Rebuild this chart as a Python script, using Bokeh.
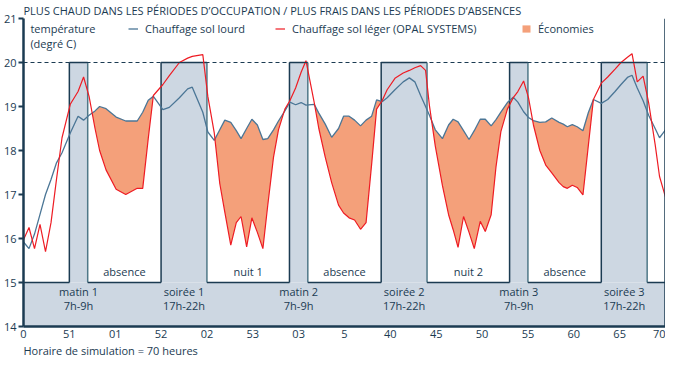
import numpy as np
from bokeh.plotting import figure
from bokeh.models import Range1d, FixedTicker, Span, Legend, LegendItem, Title
from bokeh.core.properties import value
from bokeh.embed import file_html
from bokeh.resources import INLINE

# ---------------- data ----------------
hours = [0.0, 0.6, 1.2, 1.8, 2.4, 3.0, 3.6, 4.2, 5.1, 5.95, 6.55, 7.15, 7.8, 8.3, 9.0,
         10.1, 11.15, 12.4, 13.0, 13.6, 14.16, 15.2, 15.9, 17.0, 17.9, 18.4, 19.55, 20.1,
         20.8, 21.4, 21.95, 22.6, 23.2, 23.72, 24.33, 24.9, 25.5, 26.1, 26.63, 27.26, 27.8,
         28.5, 29.04, 29.67, 30.27, 30.8, 31.7, 32.2, 32.9, 33.6, 34.35, 34.9, 35.5, 36.1,
         36.75, 37.35, 37.96, 38.5, 39.1, 39.65, 40.5, 41.4, 42.07, 42.67, 43.3, 43.84,
         44.26, 44.9, 45.68, 46.35, 46.85, 47.38, 47.98, 48.58, 49.15, 49.8, 50.35, 50.99,
         51.52, 52.05, 52.76, 53.4, 53.9, 54.53, 55.06, 55.6, 56.3, 56.94, 57.6, 58.4,
         58.85, 59.3, 59.84, 60.37, 61.0, 61.6, 62.14, 63.0, 63.7, 64.5, 65.15, 65.85,
         66.35, 66.92, 67.56, 68.16, 68.87, 69.35, 70.0]

# Chauffage sol léger (OPAL SYSTEMS)
leger = [15.97, 16.25, 15.77, 16.32, 15.70, 16.36, 17.35, 18.29, 19.05, 19.34, 19.67, 19.23,
         18.5, 18.0, 17.56, 17.12, 17.0, 17.14, 17.14, 18.27, 19.25, 19.5, 19.7, 20.0, 20.1,
         20.14, 20.18, 19.23, 18.4, 17.25, 16.6, 15.85, 16.36, 16.5, 15.81, 16.47, 16.14,
         15.77, 16.75, 17.85, 18.47, 18.94, 19.13, 19.42, 19.78, 20.04, 19.09, 18.5, 17.85,
         17.27, 16.76, 16.58, 16.47, 16.42, 16.21, 16.36, 17.69, 18.94, 19.13, 19.38, 19.64,
         19.76, 19.82, 19.88, 19.93, 19.82, 19.02, 18.1, 17.2, 16.54, 16.2, 15.8, 16.5,
         16.14, 15.77, 16.39, 16.16, 16.54, 17.63, 18.43, 18.94, 19.2, 19.34, 19.58, 19.2,
         18.58, 18.0, 17.67, 17.49, 17.27, 17.18, 17.14, 17.21, 17.16, 16.99, 18.14, 19.16,
         19.53, 19.67, 19.85, 20.0, 20.12, 20.2, 19.56, 19.69, 19.09, 18.14, 17.41, 16.94]

# Chauffage sol lourd
lourd = [15.92, 15.77, 16.1, 16.55, 17.0, 17.34, 17.72, 17.95, 18.4, 18.78, 18.69, 18.8,
         18.9, 19.0, 18.95, 18.76, 18.67, 18.67, 18.87, 19.14, 19.23, 18.93, 18.98, 19.2,
         19.4, 19.44, 18.87, 18.42, 18.23, 18.47, 18.69, 18.64, 18.45, 18.27, 18.5, 18.71,
         18.58, 18.25, 18.27, 18.47, 18.67, 18.9, 19.1, 19.04, 19.09, 19.03, 19.05, 18.85,
         18.6, 18.3, 18.5, 18.78, 18.78, 18.69, 18.56, 18.69, 18.78, 19.15, 19.11, 19.2,
         19.38, 19.56, 19.65, 19.56, 19.25, 19.0, 18.8, 18.47, 18.27, 18.58, 18.71, 18.65,
         18.45, 18.25, 18.45, 18.71, 18.71, 18.56, 18.7, 18.87, 19.09, 19.21, 19.1, 18.88,
         18.75, 18.68, 18.64, 18.65, 18.74, 18.64, 18.6, 18.54, 18.59, 18.54, 18.45, 18.87,
         19.16, 19.07, 19.16, 19.34, 19.5, 19.66, 19.71, 19.42, 19.13, 18.8, 18.5, 18.29, 18.47]

occ_start = [5, 15, 29, 39, 53, 63]
occ_end = [7, 20, 31, 44, 55, 68]
occ_labels = ["matin 1\n7h-9h", "soirée 1\n17h-22h", "matin 2\n7h-9h",
              "soirée 2\n17h-22h", "matin 3\n7h-9h", "soirée 3\n17h-22h"]
off_labels = ["absence", "nuit 1", "absence", "nuit 2", "absence"]

x_ticks = list(range(0, 71, 5))
x_tick_labels = ["0", "51", "01", "52", "02", "53", "03", "5", "40", "45", "50", "55", "60", "65", "70"]
y_ticks = [14, 15, 16, 17, 18, 19, 20, 21]

h_min, h_max = 0, 70
t_min, t_max = 14, 21
band_top = 15
comfort = 20

title_text = "PLUS CHAUD DANS LES PÉRIODES D’OCCUPATION / PLUS FRAIS DANS LES PÉRIODES D’ABSENCES"
ylabel_text = "température\n(degré C)"
xlabel_text = "Horaire de simulation = 70 heures"

# ---------------- style ----------------
FONT = "Open Sans"
NAVY = "#1b3b52"
EDGE_LIGHT = "#4f7888"
GRAY = "#cdd7e2"
ORANGE = "#f4a07a"
RED = "#ee1c24"
BLUE = "#4b7696"
FS = "11px"

p = figure(width=665, height=357, x_range=Range1d(h_min, h_max), y_range=Range1d(t_min, t_max),
           output_backend="svg", toolbar_location=None,
           min_border_left=0, min_border_right=0, min_border_top=0, min_border_bottom=0)
p.outline_line_color = None
p.grid.visible = False

p.title.text = title_text
p.title.align = "left"
p.title.text_font = FONT
p.title.text_font_size = FS
p.title.text_font_style = "normal"
p.title.text_color = NAVY
p.title.standoff = 1

p.add_layout(Title(text=xlabel_text, align="left", text_font=FONT, text_font_size=FS,
                   text_font_style="normal", text_color=NAVY, standoff=0), "below")

# gray background shape
p.quad(left=[h_min], right=[h_max], bottom=[t_min], top=[band_top], fill_color=GRAY, line_color=None)
p.quad(left=occ_start, right=occ_end, bottom=band_top, top=comfort, fill_color=GRAY, line_color=None)

# savings fill (between the curves, where light floor is cooler, within occupancy cycle)
h = np.array(hours, dtype=float)
r = np.array(leger, dtype=float)
b = np.array(lourd, dtype=float)
xs, rs, bs = [h[0]], [r[0]], [b[0]]
for i in range(1, len(h)):
    d0 = r[i - 1] - b[i - 1]
    d1 = r[i] - b[i]
    if d0 * d1 < 0:
        t = d0 / (d0 - d1)
        xs.append(h[i - 1] + t * (h[i] - h[i - 1]))
        rs.append(r[i - 1] + t * (r[i] - r[i - 1]))
        bs.append(b[i - 1] + t * (b[i] - b[i - 1]))
    xs.append(h[i]); rs.append(r[i]); bs.append(b[i])
xs, rs, bs = np.array(xs), np.array(rs), np.array(bs)
mask = (xs >= occ_start[0]) & (xs <= occ_end[-1]) & (rs < bs)
y_low = np.where(mask, rs, bs)
fill_r = p.varea(x=xs, y1=y_low, y2=bs, fill_color=ORANGE)

# outlines of occupancy blocks
p.segment(x0=occ_start, y0=band_top, x1=occ_start, y1=comfort, line_color=NAVY, line_width=1.5)
p.segment(x0=occ_start, y0=comfort, x1=occ_end, y1=comfort, line_color=NAVY, line_width=1.5)
p.segment(x0=occ_end, y0=band_top, x1=occ_end, y1=comfort, line_color=EDGE_LIGHT, line_width=1.5)
gap_start = [h_min] + occ_end
gap_end = occ_start + [h_max]
p.segment(x0=gap_start, y0=band_top, x1=gap_end, y1=band_top, line_color=NAVY, line_width=1.5)

p.add_layout(Span(location=comfort, dimension="width", line_color=NAVY, line_width=1, line_dash="4 3"))
p.add_layout(Span(location=h_max, dimension="height", line_color=NAVY, line_width=2.5))

# curves
blue_r = p.line(hours, lourd, line_color=BLUE, line_width=1.3)
red_r = p.line(hours, leger, line_color=RED, line_width=1.2)

# period labels
occ_mid = [(a + c) / 2 for a, c in zip(occ_start, occ_end)]
p.text(x=occ_mid, y=[band_top - 0.03] * len(occ_mid), text=occ_labels, text_align="center",
       text_baseline="top", text_font=value(FONT), text_font_size=FS, text_color=NAVY,
       text_line_height=0.95)
off_mid = [(a + c) / 2 for a, c in zip(occ_end[:-1], occ_start[1:])]
p.text(x=off_mid, y=[band_top + 0.24] * len(off_mid), text=off_labels, text_align="center",
       text_baseline="middle", text_font=value(FONT), text_font_size=FS, text_color=NAVY)

p.text(x=[0.75], y=[20.94], text=[ylabel_text], text_align="left", text_baseline="top",
       text_font=value(FONT), text_font_size=FS, text_color=NAVY, text_line_height=1.0)

# legends
for rend, lab, xloc in [(blue_r, "Chauffage sol lourd", 105),
                        (red_r, "Chauffage sol léger (OPAL SYSTEMS)", 252),
                        (fill_r, "Économies", 498)]:
    lg = Legend(items=[LegendItem(label=lab, renderers=[rend])], location=(xloc, 290),
                orientation="horizontal", glyph_width=10, glyph_height=9, label_standoff=7,
                padding=0, margin=0, background_fill_alpha=0, border_line_alpha=0,
                label_text_font=FONT, label_text_font_size=FS, label_text_color=NAVY)
    p.add_layout(lg)

# axes
for ax in (p.xaxis[0], p.yaxis[0]):
    ax.axis_line_color = NAVY
    ax.axis_line_width = 2.5
    ax.major_tick_line_color = NAVY
    ax.major_tick_line_width = 2
    ax.minor_tick_line_color = None
    ax.major_label_text_font = FONT
    ax.major_label_text_font_size = FS
    ax.major_label_text_color = NAVY

xa = p.xaxis[0]
xa.ticker = FixedTicker(ticks=x_ticks)
xa.major_label_overrides = {t: l for t, l in zip(x_ticks, x_tick_labels)}
xa.major_tick_out = 0
xa.major_tick_in = 0
xa.major_label_standoff = 3

p.yaxis.ticker = FixedTicker(ticks=y_ticks)
p.yaxis.major_tick_out = 5
p.yaxis.major_tick_in = 0
p.yaxis.major_label_standoff = 2

open("out.html", "w").write(file_html(p, INLINE))
